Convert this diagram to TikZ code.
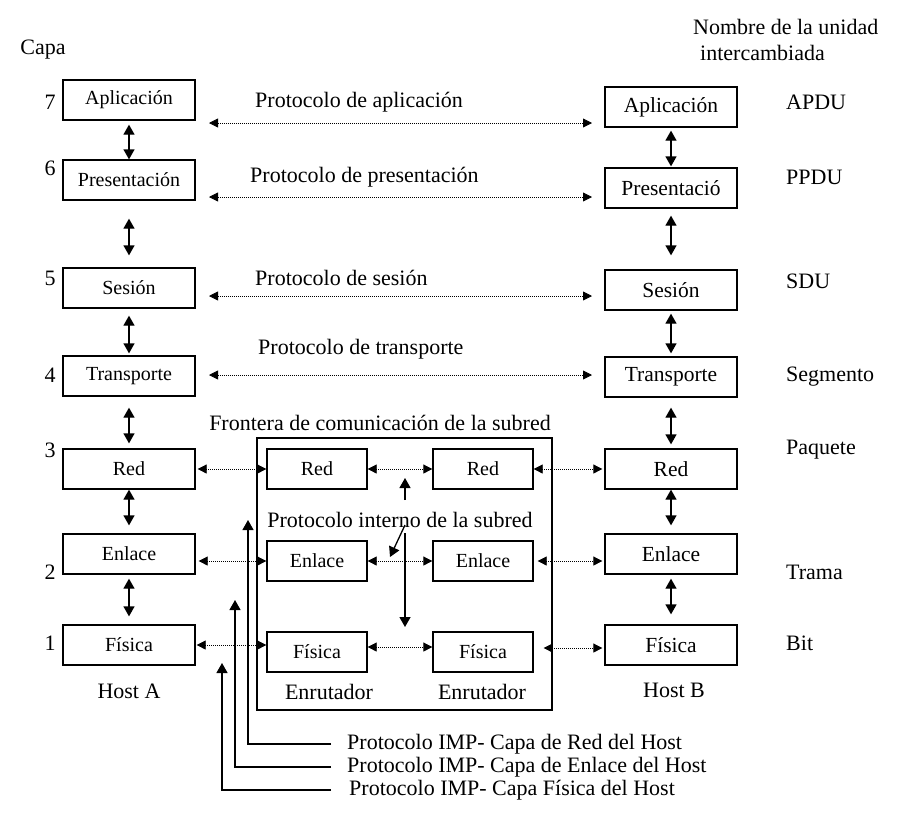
\documentclass[tikz,border=0pt]{standalone}
\usepackage{fontspec}
\setmainfont{Liberation Serif}
\usetikzlibrary{arrows.meta}

\begin{document}
\begin{tikzpicture}[x=1pt,y=-1pt,
  capa/.style={draw,line width=1.3pt,minimum width=132pt,minimum height=40pt,inner sep=0pt,font=\fontsize{20}{24}\selectfont},
  capab/.style={capa,font=\fontsize{21.5}{25}\selectfont},
  enr/.style={capa,minimum width=100pt},
  txt/.style={inner sep=0pt,font=\fontsize{22}{26}\selectfont},
  vflecha/.style={line width=1.3pt,{Triangle[length=10pt,width=11pt]}-{Triangle[length=10pt,width=11pt]}},
  pflecha/.style={line width=0.8pt,dash pattern=on 1pt off 1pt,{Triangle[length=9pt,width=9pt]}-{Triangle[length=9pt,width=9pt]}},
  sflecha/.style={line width=1.3pt,-{Triangle[length=10pt,width=11pt]}}]
\useasboundingbox (0,0) rectangle (915,815);

\node[capa] (a7) at (129,100) {Aplicación};
\node[capa] (a6) at (129,180) {Presentación};
\node[capa] (a5) at (129,288) {Sesión};
\node[capa] (a4) at (129,376) {Transporte};
\node[capa] (a3) at (129,469) {Red};
\node[capa] (a2) at (129,554) {Enlace};
\node[capa] (a1) at (129,645) {Física};
\node[capab] (b7) at (671,107) {Aplicación};
\node[capab] (b6) at (671,188) {Presentació};
\node[capab] (b5) at (671,290) {Sesión};
\node[capab] (b4) at (671,377) {Transporte};
\node[capab] (b3) at (671,469) {Red};
\node[capab] (b2) at (671,554) {Enlace};
\node[capab] (b1) at (671,645) {Física};
\node[enr] (r3a) at (317,469) {Red};
\node[enr] (r2a) at (317,561) {Enlace};
\node[enr] (r1a) at (317,652) {Física};
\node[enr] (r3b) at (483,469) {Red};
\node[enr] (r2b) at (483,561) {Enlace};
\node[enr] (r1b) at (483,652) {Física};
\node[draw,line width=1.3pt,minimum width=295pt,minimum height=272pt,inner sep=0pt] (subred) at (404.5,574) {};

\node[txt] (capa) at (43,50) {Capa};
\node[txt] (n7) at (50,102) {7};
\node[txt] (n6) at (50,168) {6};
\node[txt] (n5) at (50,278) {5};
\node[txt] (n4) at (50,375) {4};
\node[txt] (n3) at (50,450) {3};
\node[txt] (n2) at (50,572) {2};
\node[txt] (n1) at (50,643) {1};
\node[txt,anchor=west] (nombre) at (693,27) {Nombre de la unidad};
\node[txt,anchor=west] (nombre2) at (700,53) {intercambiada};
\node[txt,anchor=west] (u7) at (786,102) {APDU};
\node[txt,anchor=west] (u6) at (786,177) {PPDU};
\node[txt,anchor=west] (u5) at (786,281) {SDU};
\node[txt,anchor=west] (u4) at (786,377) {Segmento};
\node[txt,anchor=west] (u3) at (786,450) {Paquete};
\node[txt,anchor=west] (u2) at (786,572) {Trama};
\node[txt,anchor=west] (u1) at (786,643) {Bit};
\node[txt,anchor=west] (p7) at (255,102) {Protocolo de aplicación};
\node[txt,anchor=west] (p6) at (250,177) {Protocolo de presentación};
\node[txt,anchor=west] (p5) at (255,278) {Protocolo de sesión};
\node[txt,anchor=west] (p4) at (258,349) {Protocolo de transporte};
\node[txt] (frontera) at (380,423) {Frontera de comunicación de la subred};
\node[txt] (interno) at (400,520) {Protocolo interno de la subred};
\node[txt] (hosta) at (129,691) {Host A};
\node[txt] (hostb) at (674,690) {Host B};
\node[txt] (enra) at (329,692) {Enrutador};
\node[txt] (enrb) at (482,692) {Enrutador};
\node[txt,anchor=west] (impr) at (347,744) {Protocolo IMP- Capa de Red del Host};
\node[txt,anchor=west] (impe) at (347,767) {Protocolo IMP- Capa de Enlace del Host};
\node[txt,anchor=west] (impf) at (349,790) {Protocolo IMP- Capa Física del Host};

% capas de cada host
\draw[vflecha,shorten <=4pt] (a7) -- (a6);
\draw[vflecha,shorten <=18pt,shorten >=12pt] (a6) -- (a5);
\draw[vflecha,shorten <=7pt,shorten >=2pt] (a5) -- (a4);
\draw[vflecha,shorten <=11pt,shorten >=5pt] (a4) -- (a3);
\draw[vflecha,shorten >=8pt] (a3) -- (a2);
\draw[vflecha,shorten <=4pt,shorten >=8pt] (a2) -- (a1);
\draw[vflecha,shorten <=3pt,shorten >=1pt] (b7) -- (b6);
\draw[vflecha,shorten <=7pt,shorten >=14pt] (b6) -- (b5);
\draw[vflecha,shorten <=3pt,shorten >=3pt] (b5) -- (b4);
\draw[vflecha,shorten <=10pt,shorten >=4pt] (b4) -- (b3);
\draw[vflecha,shorten >=8pt] (b3) -- (b2);
\draw[vflecha,shorten <=4pt,shorten >=10pt] (b2) -- (b1);

% protocolos de igual a igual
\coordinate (i7) at (209,123);
\coordinate (d7) at (592,123);
\coordinate (i6) at (209,197);
\coordinate (d6) at (592,197);
\coordinate (i5) at (209,296);
\coordinate (d5) at (592,296);
\coordinate (i4) at (209,375);
\coordinate (d4) at (592,375);
\draw[pflecha] (i7) -- (d7);
\draw[pflecha] (i6) -- (d6);
\draw[pflecha] (i5) -- (d5);
\draw[pflecha] (i4) -- (d4);

% subred
\draw[pflecha,shorten <=2pt] (a3.east) -- (r3a.west);
\draw[pflecha,shorten <=3pt] (r2a.west -| a2.east) -- (r2a.west);
\draw[pflecha,shorten <=1pt] (a1.east) -- (a1.east -| r1a.west);
\draw[pflecha] (r3a) -- (r3b);
\draw[pflecha] (r2a) -- (r2b);
\draw[pflecha] ([yshift=5pt]r1a.east) -- ([yshift=5pt]r1b.west);
\draw[pflecha,shorten >=2pt] (r3b.east) -- (b3.west);
\draw[pflecha,shorten <=4pt,shorten >=2pt] (r2b.east) -- (r2b.east -| b2.west);
\draw[pflecha,shorten <=10pt,shorten >=2pt] ([yshift=4pt]r1b.east) -- ([yshift=4pt]r1b.east -| b1.west);

\coordinate (s0) at (405,500);
\coordinate (s1) at (405,478);
\coordinate (s2) at (405,533);
\coordinate (s3) at (405,627);
\coordinate (s4) at (405,525);
\coordinate (s5) at (390,557);
\draw[sflecha] (s0) -- (s1);
\draw[sflecha] (s2) -- (s3);
\draw[sflecha] (s4) -- (s5);

% protocolos IMP
\coordinate (tr) at (248,520);
\coordinate (te) at (235,600);
\coordinate (tf) at (222,663);
\draw[sflecha,shorten <=16pt] (impr.west) -| (tr);
\draw[sflecha,shorten <=16pt] (impe.west) -| (te);
\draw[sflecha,shorten <=18pt] (impf.west) -| (tf);
\end{tikzpicture}
\end{document}
